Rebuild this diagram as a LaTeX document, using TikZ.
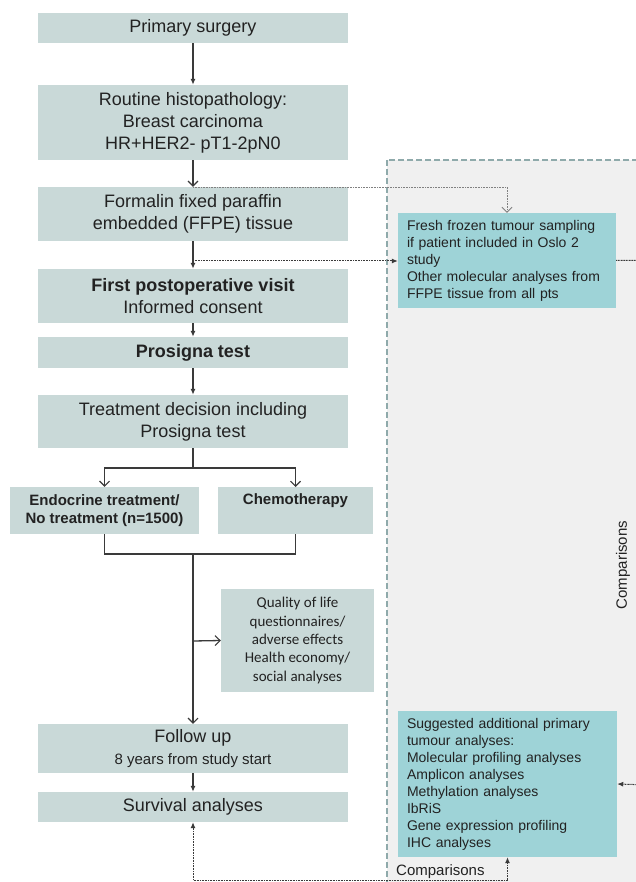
\documentclass[tikz,border=0pt]{standalone}
\usepackage{fontspec}
\setmainfont{Liberation Sans}
\newfontfamily\calfont{Carlito}
\usetikzlibrary{arrows.meta}
\definecolor{boxgray}{HTML}{C9D9D8}
\definecolor{boxteal}{HTML}{9ED3D7}
\definecolor{panelgray}{HTML}{F0F0F0}
\definecolor{paneledge}{HTML}{8FAAAB}
\definecolor{inkdark}{HTML}{222222}
\definecolor{lineink}{HTML}{3A3A3A}
\definecolor{dotink}{HTML}{808080}

\begin{document}
\begin{tikzpicture}[x=1pt,y=-1pt,
  mainbox/.style={rectangle, fill=boxgray, text=inkdark, align=center, inner sep=0pt,
    minimum width=310pt, font=\fontsize{18}{22}\selectfont},
  sidebox/.style={rectangle, fill=boxgray, text=inkdark, align=center, inner sep=0pt,
    font=\fontsize{15}{18}\selectfont\bfseries},
  tealbox/.style={rectangle, fill=boxteal, text=inkdark, align=left, inner xsep=9pt,
    inner ysep=6pt, font=\fontsize{14}{17}\selectfont},
  flow/.style={draw=lineink, line width=1.3pt},
  solidtip/.style={-{Latex[length=6pt,width=5pt]}},
  opentip/.style={-{Straight Barb[length=5pt,width=10pt,line width=1.1pt]}},
  dotline/.style={draw=lineink, line width=1pt, dash pattern=on 1pt off 0.6pt},
  lightdot/.style={draw=dotink, line width=0.9pt, dash pattern=on 1pt off 0.6pt},
  note/.style={text=inkdark, font=\fontsize{15}{18}\selectfont, inner sep=0pt}
]
\useasboundingbox (0,0) rectangle (636,882);
\clip (0,0) rectangle (636,882);
\fill[white] (0,0) rectangle (636,882);

% right-hand analysis panel
\path[fill=panelgray, draw=paneledge, line width=1.3pt, dash pattern=on 6pt off 3pt]
  (387,160) rectangle (720,920);

% main flow boxes
\node[mainbox, minimum height=30pt] (surg) at (193,28) {Primary surgery};
\node[mainbox, minimum height=75pt] (histo) at (193,122.5)
  {Routine histopathology:\\Breast carcinoma\\HR+HER2- pT1-2pN0};
\node[mainbox, minimum height=54pt] (ffpe) at (193,214)
  {Formalin fixed paraffin\\embedded (FFPE) tissue};
\node[mainbox, minimum height=54pt] (visit) at (193,296)
  {\textbf{First postoperative visit}\\Informed consent};
\node[mainbox, minimum height=31pt] (pros) at (193,352.5) {\textbf{Prosigna test}};
\node[mainbox, minimum height=53pt] (decide) at (193,421.5)
  {Treatment decision including\\Prosigna test};
\node[sidebox, minimum width=189pt, minimum height=47pt] (endo) at (104.5,510.5)
  {Endocrine treatment/\\No treatment (n=1500)};
\node[sidebox, minimum width=155pt, minimum height=47pt, anchor=north,
  text depth=27pt, text height=15pt, inner ysep=2pt] (chemo) at (295.5,487) {Chemotherapy};
\node[rectangle, fill=boxgray, text=inkdark, align=center, inner sep=0pt,
  minimum width=153pt, minimum height=103pt, font=\calfont\fontsize{15}{18.3}\selectfont]
  (qol) at (297.5,640.5)
  {Quality of life\\questionnaires/\\adverse effects\\Health economy/\\social analyses};
\node[mainbox, minimum height=49pt] (follow) at (193,748.5)
  {Follow up\\{\fontsize{15}{18}\selectfont 8 years from study start}};
\node[mainbox, minimum height=30pt] (surv) at (193,807) {Survival analyses};

% molecular analysis boxes
\node[tealbox, text width=200pt, minimum height=95pt] (fresh) at (507,260.5)
  {Fresh frozen tumour sampling\\if patient included in Oslo 2\\study\\Other molecular analyses from\\FFPE tissue from all pts};
\node[tealbox, text width=201pt, minimum height=146pt] (extra) at (507.5,784)
  {Suggested additional primary\\tumour analyses:\\Molecular profiling analyses\\Amplicon analyses\\Methylation analyses\\IbRiS\\Gene expression profiling\\IHC analyses};

% labels
\node[note, rotate=90] (cmpside) at (623,565) {Comparisons};
\node[note, anchor=west] (cmpbottom) at (396,872) {Comparisons};

% junction points on the main line
\coordinate (jtap1) at (193,187);
\coordinate (jtap2) at (193,261);
\coordinate (jsplit) at (193,468);
\coordinate (jmerge) at (193,554);
\coordinate (jqol) at (193,641);
\coordinate (rturn1) at (650,260.5);
\coordinate (rturn2) at (650,785);
\coordinate (bturn1) at (193,880);
\coordinate (bturn2) at (507.5,880);

% main flow connectors
\draw[flow, solidtip] (surg.south) -- (histo.north);
\draw[flow, opentip] (histo.south) -- (ffpe.north);
\draw[flow, solidtip] (ffpe.south) -- (visit.north);
\draw[flow, solidtip] (visit.south) -- (pros.north);
\draw[flow, solidtip] (pros.south) -- (decide.north);
\draw[flow] (decide.south) -- (jsplit);
\draw[flow, opentip] (jsplit) -| (endo.north);
\draw[flow, opentip] (jsplit) -| (chemo.north);
\draw[flow] (endo.south) |- (jmerge) -| (chemo.south);
\draw[flow, opentip] (jmerge) -- (follow.north);
\draw[flow, opentip] (jqol) -- (qol.west);
\draw[flow, solidtip] (follow.south) -- (surv.north);

% sampling and comparison connectors
\draw[lightdot, -{Straight Barb[length=5pt,width=10pt,line width=0.9pt]}]
  (jtap1) -| (fresh.north);
\draw[dotline, solidtip] (jtap2) -- (fresh.west |- jtap2);
\draw[dotline, solidtip] (fresh.east) -- (rturn1) -- (rturn2) -- (extra.east);
\draw[dotline, {Latex[length=6pt,width=5pt]}-{Latex[length=6pt,width=5pt]}]
  (surv.south) -- (bturn1) -- (bturn2) -- (extra.south);
\end{tikzpicture}
\end{document}
